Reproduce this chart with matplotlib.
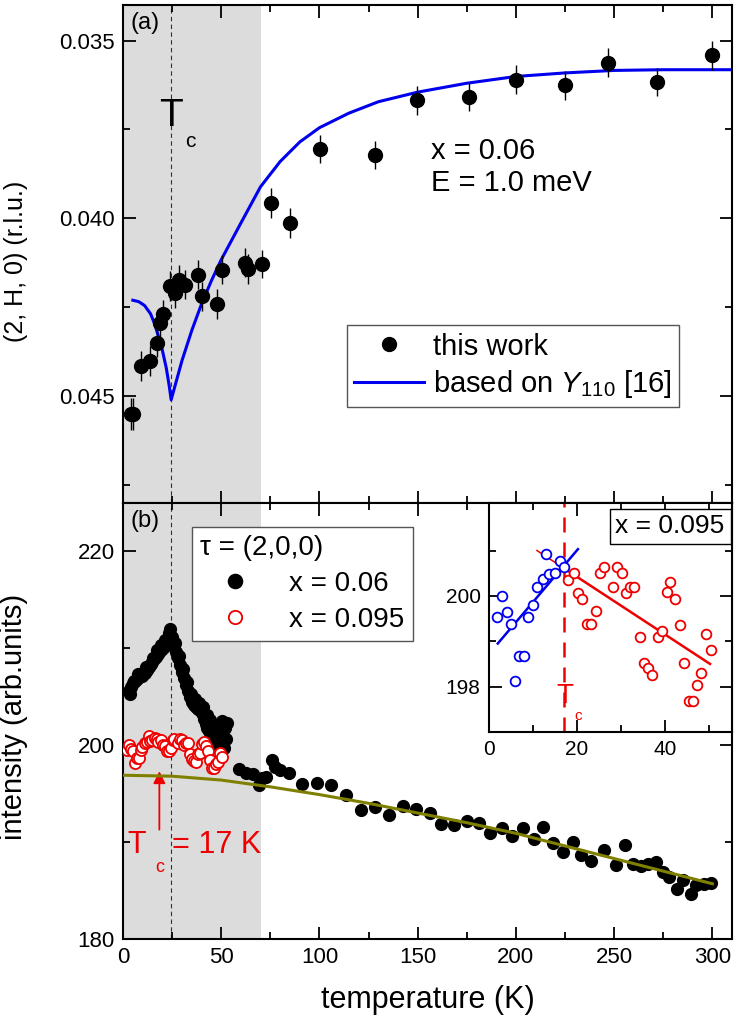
import matplotlib
matplotlib.use('Agg')
import matplotlib.pyplot as plt
from matplotlib.ticker import MultipleLocator, FixedLocator
from matplotlib.lines import Line2D

plt.rcParams['font.family'] = ['Liberation Sans', 'DejaVu Sans']
plt.rcParams['mathtext.fontset'] = 'custom'
plt.rcParams['mathtext.rm'] = 'Liberation Sans'
plt.rcParams['mathtext.it'] = 'Liberation Sans:italic'

# ---- panel (a): peak position vs temperature, x = 0.06
Ta = [4.1, 5.2, 9.2, 13.7, 17.1, 18.8, 20.5, 23.9, 26.4, 28.5, 31.5, 38.0, 40.0,
      48.0, 50.2, 62.0, 63.4, 70.5, 75.1, 84.9, 100.2, 128.1, 149.7, 175.9,
      199.8, 225.1, 247.1, 271.8, 299.8]
Ha = [0.04550, 0.04550, 0.04415, 0.04401, 0.04350, 0.04294, 0.04270, 0.04191,
      0.04210, 0.04172, 0.04186, 0.04158, 0.04219, 0.04240, 0.04144, 0.04124,
      0.04142, 0.04128, 0.03957, 0.04012, 0.03805, 0.03822, 0.03668, 0.03659,
      0.03610, 0.03626, 0.03562, 0.03617, 0.03542]
Ha_err = [0.00045, 0.00045, 0.00042, 0.00042, 0.00040, 0.00040, 0.00040, 0.00042,
          0.00042, 0.00040, 0.00040, 0.00040, 0.00040, 0.00042, 0.00040, 0.00040,
          0.00042, 0.00040, 0.00042, 0.00042, 0.00040, 0.00040, 0.00040, 0.00040,
          0.00040, 0.00040, 0.00040, 0.00040, 0.00040]

# curve based on Y110 [16]
Tcurve = [5, 8, 11, 14, 16, 18, 20, 22, 23.5, 24.5, 26, 28, 30, 35, 40, 45, 50, 60,
          70, 80, 90, 100, 115, 130, 150, 175, 200, 225, 250, 275, 310]
Hcurve = [0.04230, 0.04234, 0.04245, 0.04268, 0.04295, 0.04331, 0.04370, 0.04420,
          0.04470, 0.04510, 0.04480, 0.04440, 0.04400, 0.04315, 0.04240, 0.04175,
          0.04116, 0.04013, 0.03911, 0.03840, 0.03785, 0.03745, 0.03704, 0.03672,
          0.03645, 0.03620, 0.03601, 0.03591, 0.03584, 0.03582, 0.03582]

# ---- panel (b): intensity of tau = (2,0,0)
Tb06 = [3, 4, 5, 6, 7, 8, 9, 10, 11, 12, 13, 14, 15, 16, 17, 18, 19, 20, 21, 22,
        23, 24, 25, 26, 27, 28, 29, 30, 31, 32, 33, 34, 35, 36, 37, 38, 39, 40,
        41, 42, 43, 44, 45, 46, 47, 48, 49, 50, 51, 52, 52.5,
        3.5, 5.5, 7.5, 9.5, 11.5, 13.5, 15.5, 17.5, 19.5, 21.5, 23.5, 26.5, 28.5,
        30.5, 32.5, 34.5, 36.5, 38.5, 40.5, 42.5, 44.5, 46.5, 48.5, 50.5, 53, 51.5,
        59.1, 62.5, 66.3, 69.3, 70.5, 73.0, 75.6, 77.3, 79.8, 84.6, 91.2, 98.5,
        105.7, 113.4, 121.0, 128.3, 135.2, 142.5, 149.3, 156.1, 162.0, 168.3,
        175.0, 181.0, 186.6, 192.8, 198.1, 203.5, 209.0, 214.0, 219.1, 224.0,
        228.9, 233.2, 238.3, 245.0, 251.0, 255.7, 259.4, 263.7, 267.1, 271.3,
        274.7, 278.1, 281.8, 284.8, 289.1, 291.7, 295.9, 299.3]
Ib06 = [205.6, 206.0, 206.4, 206.6, 206.8, 207.0, 207.2, 207.4, 207.5, 207.8,
        208.1, 208.4, 208.6, 208.9, 209.1, 209.4, 209.7, 209.9, 210.1, 210.5,
        211.0, 212.0, 211.2, 210.3, 209.6, 209.0, 208.3, 207.6, 206.9, 206.2,
        205.6, 205.0, 204.5, 204.2, 203.9, 203.7, 203.6, 203.3, 202.7, 202.2,
        201.8, 201.5, 201.2, 200.9, 200.6, 200.3, 199.8, 200.0, 201.0, 201.8, 200.6,
        205.3, 206.6, 207.3, 207.1, 208.1, 208.3, 209.0, 209.8, 210.3, 210.9,
        211.6, 210.6, 209.2, 207.9, 206.5, 205.3, 204.8, 204.4, 203.9, 203.1,
        202.6, 201.7, 201.6, 202.5, 202.3, 199.7,
        197.5, 197.1, 197.0, 195.9, 196.6, 196.7, 198.5, 197.8, 197.4, 197.1,
        196.0, 196.1, 195.9, 194.9, 193.3, 193.6, 192.8, 193.7, 193.4, 193.0,
        191.9, 191.8, 192.2, 192.0, 190.9, 191.5, 190.6, 191.5, 190.3, 191.6,
        189.9, 189.0, 190.0, 188.7, 188.0, 189.2, 187.6, 189.7, 187.7, 187.5,
        187.7, 187.9, 186.9, 186.4, 185.2, 186.1, 184.6, 185.6, 185.7, 185.8]

# x = 0.095, below and above Tc = 17 K (same data in main panel and inset)
T095_lo = [1.9, 3.0, 4.0, 5.0, 6.0, 6.9, 8.0, 8.9, 9.9, 11.0, 12.2, 13.0, 13.7,
           15.0, 16.1, 17.1]
I095_lo = [199.53, 199.99, 199.65, 199.37, 198.12, 198.67, 198.67, 199.53, 199.79,
           200.20, 200.37, 200.92, 200.48, 200.50, 200.78, 200.64]
T095_hi = [18.0, 19.2, 20.2, 21.2, 22.2, 23.2, 24.2, 25.2, 26.2, 28.1, 29.0, 30.2,
           31.1, 32.0, 33.0, 34.2, 35.1, 36.1, 37.1, 38.3, 39.2, 40.4, 41.1, 42.3,
           43.3, 44.2, 45.5, 46.4, 47.2, 48.2, 49.3, 50.4]
I095_hi = [200.35, 200.51, 200.07, 199.93, 199.38, 199.38, 199.66, 200.51, 200.64,
           200.20, 200.64, 200.50, 200.07, 200.20, 200.20, 199.09, 198.53, 198.41,
           198.26, 199.09, 199.23, 200.08, 200.30, 199.93, 199.36, 198.52, 197.69,
           197.69, 198.04, 198.31, 199.16, 198.81]

# Debye-Waller like background curve for x = 0.06
Tdw = [0, 25, 50, 75, 100, 125, 150, 175, 200, 225, 250, 275, 300]
Idw = [196.9, 196.8, 196.4, 195.7, 194.9, 194.0, 193.0, 192.0, 190.9, 189.6,
       188.3, 187.0, 185.7]

# linear fits in inset
fit_lo_T = [2.0, 20.2]
fit_lo_I = [198.95, 201.03]
fit_hi_T = [10.9, 17.0, 50.2]
fit_hi_I = [201.0, 200.61, 198.5]

Tc06 = 24.5
Tc095 = 17
shade = 70

fig = plt.figure(figsize=(7.34, 10.35), dpi=100)
ax1 = fig.add_axes([0.1676, 0.5140, 0.8297, 0.4812])
ax2 = fig.add_axes([0.1676, 0.0928, 0.8297, 0.4212])

def style(ax):
    for s in ax.spines.values():
        s.set_linewidth(1.5)
    ax.tick_params(which='both', direction='in', top=True, right=True,
                   labelsize=16, width=1.3, pad=6)
    ax.tick_params(which='major', length=9)
    ax.tick_params(which='minor', length=5)

# ---- panel (a)
ax1.axvspan(0, shade, color='#dcdcdc', lw=0, zorder=0)
ax1.axvline(Tc06, color='#333333', ls=(0, (4, 3)), lw=0.8, zorder=1)
ax1.plot(Tcurve, Hcurve, color='#0000ee', lw=2.2, zorder=2)
ax1.errorbar(Ta, Ha, yerr=Ha_err, fmt='o', color='black', ms=10, ecolor='black',
             elinewidth=1, capsize=0, zorder=3)
ax1.set_xlim(0, 310)
ax1.set_ylim(0.048, 0.034)
ax1.xaxis.set_major_locator(MultipleLocator(50))
ax1.xaxis.set_minor_locator(MultipleLocator(25))
ax1.yaxis.set_major_locator(MultipleLocator(0.005))
ax1.yaxis.set_minor_locator(MultipleLocator(0.0025))
ax1.yaxis.set_major_formatter(plt.FormatStrFormatter('%.3f'))
style(ax1)
ax1.tick_params(labelbottom=False)
ax1.set_ylabel('(2, H, 0) (r.l.u.)', fontsize=18)
ax1.yaxis.set_label_coords(-0.156, 0.486)
ax1.text(0.012, 0.985, '(a)', transform=ax1.transAxes, fontsize=17, va='top')
ax1.text(24.5, 0.0374, 'T', fontsize=28, ha='center', va='baseline')
ax1.text(34.5, 0.0380, 'c', fontsize=15, ha='center', va='baseline')
ax1.text(157, 0.03855, 'x = 0.06\nE = 1.0 meV', fontsize=21, ha='left',
         va='center', linespacing=1.2)
handles = [Line2D([], [], ls='none', marker='o', color='black', ms=10),
           Line2D([], [], color='#0000ee', lw=2.2)]
labels = ['this work', r'based on $Y_{\mathit{110}}$ [16]']
ax1.legend(handles, labels, loc='upper left', bbox_to_anchor=(0.368, 0.357),
           fontsize=21, frameon=True, fancybox=False, edgecolor='#555555',
           framealpha=1, handlelength=2.4, handletextpad=0.3, borderpad=0.25,
           labelspacing=0.25, borderaxespad=0)

# ---- panel (b)
ax2.axvspan(0, shade, color='#dcdcdc', lw=0, zorder=0)
ax2.axvline(Tc06, color='#333333', ls=(0, (4, 3)), lw=0.8, zorder=1)
ax2.plot(Tb06, Ib06, 'o', color='black', ms=8.5, zorder=2, label='x = 0.06')
ax2.plot(T095_lo + T095_hi, I095_lo + I095_hi, 'o', mfc='white', mec='#ee0000',
         mew=1.3, ms=8, zorder=3, label='x = 0.095')
ax2.plot(Tdw, Idw, color='#808000', lw=2.2, zorder=4)
ax2.set_xlim(0, 310)
ax2.set_ylim(180, 225)
ax2.xaxis.set_major_locator(MultipleLocator(50))
ax2.xaxis.set_minor_locator(MultipleLocator(25))
ax2.yaxis.set_major_locator(MultipleLocator(20))
ax2.yaxis.set_minor_locator(MultipleLocator(10))
style(ax2)
ax2.set_xlabel('temperature (K)', fontsize=22, labelpad=12)
ax2.set_ylabel('intensity (arb.units)', fontsize=21)
ax2.yaxis.set_label_coords(-0.156, 0.509)
ax2.text(0.012, 0.985, '(b)', transform=ax2.transAxes, fontsize=17, va='top')
ax2.annotate('', xy=(18.5, 197.6), xytext=(18.5, 191.0),
             arrowprops=dict(arrowstyle='-|>', color='#ee0000', lw=1.3,
                             mutation_scale=18))
ax2.text(7, 189.7, 'T', fontsize=22, color='#ee0000', va='center', ha='center')
ax2.text(18.5, 187.4, 'c', fontsize=13, color='#ee0000', va='center', ha='center')
ax2.text(25, 189.7, '= 17 K', fontsize=22, color='#ee0000', va='center')
ax2.legend(loc='upper left', bbox_to_anchor=(0.113, 0.945), fontsize=20,
           title='\u03c4 = (2,0,0)', title_fontsize=20, alignment='left',
           frameon=True, fancybox=False, edgecolor='#555555', framealpha=1,
           handlelength=2.5, handletextpad=0.7, borderpad=0.3,
           labelspacing=0.35, borderaxespad=0, markerscale=1.2)

# ---- inset
ax3 = fig.add_axes([0.6662, 0.2928, 0.3311, 0.2213])
ax3.set_facecolor('white')
ax3.axvline(Tc095, color='#ee0000', ls=(0, (6, 4)), lw=1.8, zorder=1)
ax3.plot(T095_lo, I095_lo, 'o', mfc='white', mec='#0000ee', mew=1.3, ms=7, zorder=3)
ax3.plot(T095_hi, I095_hi, 'o', mfc='white', mec='#ee0000', mew=1.3, ms=7, zorder=3)
ax3.plot(fit_lo_T, fit_lo_I, color='#0000ee', lw=1.8, zorder=2)
ax3.plot(fit_hi_T[:2], fit_hi_I[:2], color='#ee0000', lw=1.1, zorder=2)
ax3.plot(fit_hi_T[1:], fit_hi_I[1:], color='#ee0000', lw=1.8, zorder=2)
ax3.set_xlim(0, 55.2)
ax3.set_ylim(197, 202.05)
ax3.xaxis.set_major_locator(MultipleLocator(20))
ax3.xaxis.set_minor_locator(MultipleLocator(10))
ax3.yaxis.set_major_locator(FixedLocator([198, 200]))
ax3.yaxis.set_minor_locator(FixedLocator([199, 201]))
style(ax3)
ax3.tick_params(labelsize=15)
ax3.text(17.3, 197.8, 'T', fontsize=20, color='#ee0000', ha='center', va='center')
ax3.text(20.2, 197.35, 'c', fontsize=11, color='#ee0000', ha='center', va='center')
ax3.text(0.97, 0.95, 'x = 0.095', transform=ax3.transAxes, fontsize=19,
         ha='right', va='top',
         bbox=dict(boxstyle='square,pad=0.22', fc='white', ec='black', lw=1))

fig.savefig('out.png', dpi=100)
